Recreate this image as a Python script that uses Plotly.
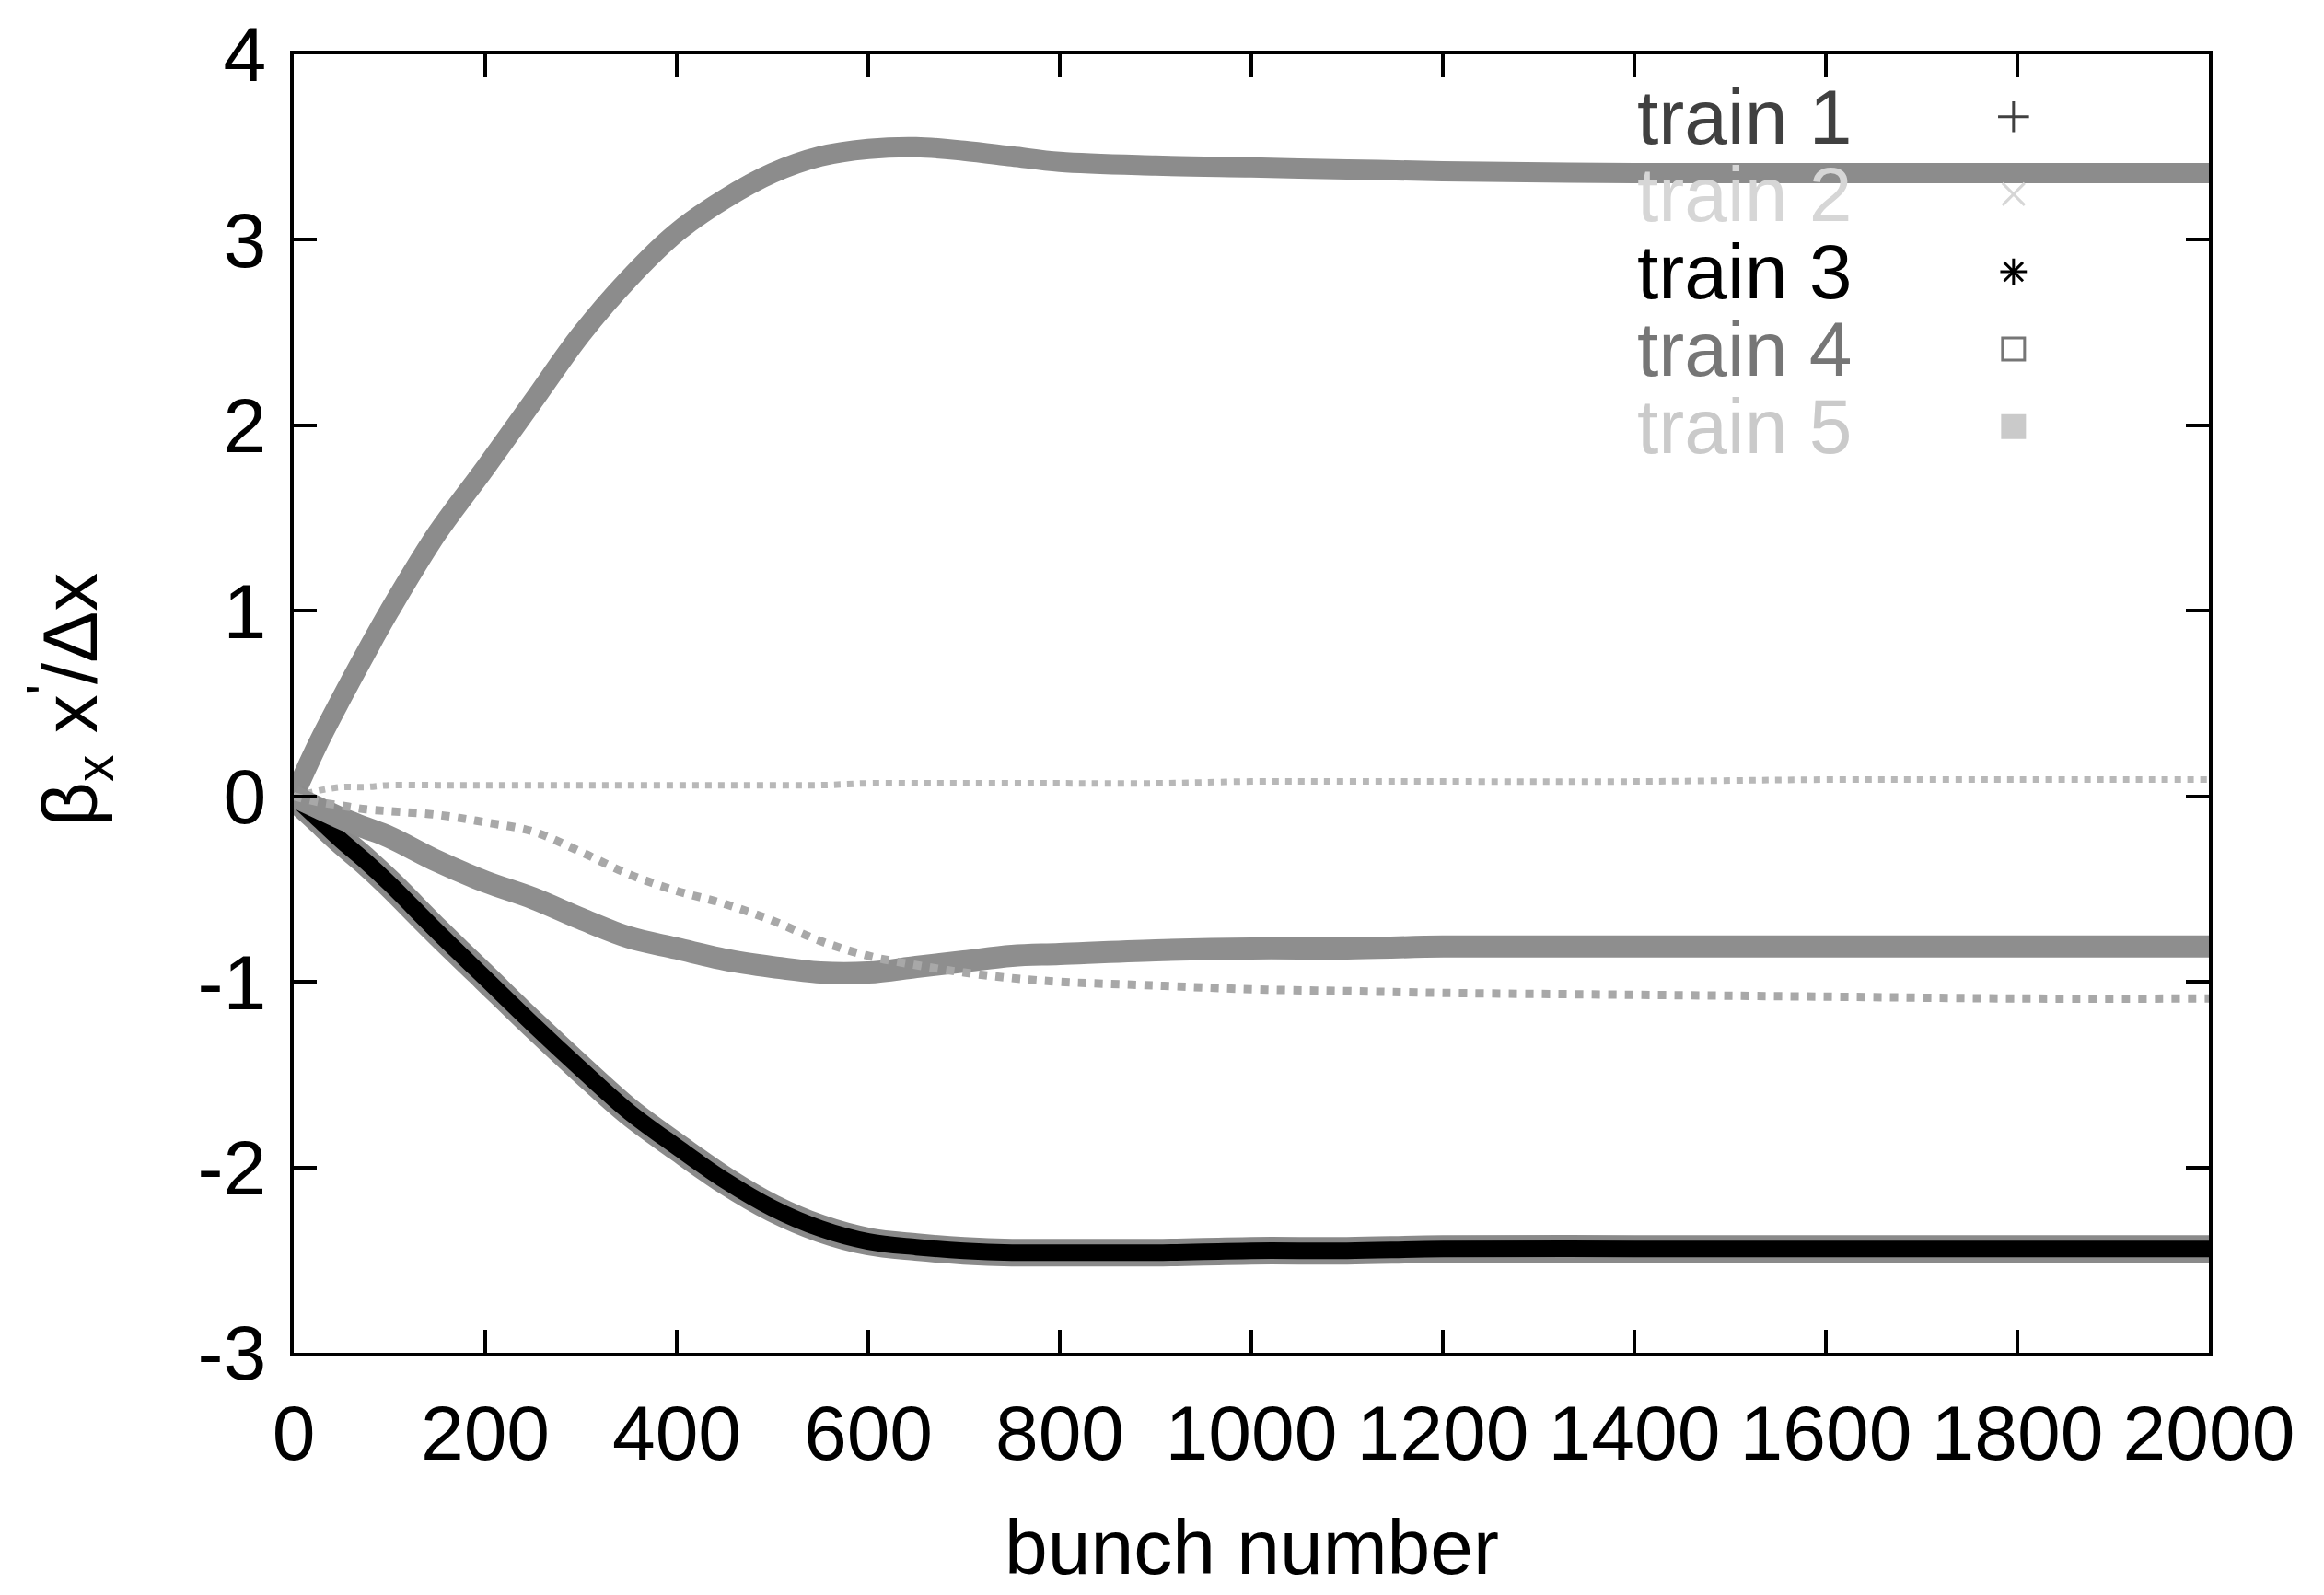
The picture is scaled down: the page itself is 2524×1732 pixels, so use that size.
import plotly.graph_objects as go

# Bunch index along the train
bunch = [0, 25, 50, 75, 100, 150, 200, 250, 300, 350, 400, 450, 500, 550, 600,
         650, 700, 750, 800, 900, 1000, 1100, 1200, 1400, 1600, 1800, 2000]

# Normalised offset beta_x * x' / dx for each bunch train
train_1 = [0.0, 0.28, 0.53, 0.77, 1.00, 1.42, 1.77, 2.13, 2.49, 2.79, 3.04, 3.22, 3.36, 3.45, 3.49,
           3.50, 3.48, 3.45, 3.42, 3.40, 3.39, 3.38, 3.37, 3.36, 3.36, 3.36, 3.36]
train_2 = [0.0, 0.03, 0.05, 0.05, 0.06, 0.06, 0.06, 0.06, 0.06, 0.06, 0.06, 0.06, 0.06, 0.06, 0.07,
           0.07, 0.07, 0.07, 0.07, 0.07, 0.08, 0.08, 0.08, 0.08, 0.09, 0.09, 0.09]
train_3 = [0.0, -0.12, -0.24, -0.35, -0.47, -0.73, -0.98, -1.23, -1.47, -1.70, -1.89, -2.07, -2.22, -2.33, -2.40,
           -2.43, -2.45, -2.46, -2.46, -2.46, -2.45, -2.45, -2.44, -2.44, -2.44, -2.44, -2.44]
train_4 = [0.0, -0.06, -0.12, -0.17, -0.22, -0.35, -0.46, -0.55, -0.66, -0.76, -0.82, -0.88, -0.92, -0.95, -0.95,
           -0.92, -0.89, -0.86, -0.85, -0.83, -0.82, -0.82, -0.81, -0.81, -0.81, -0.81, -0.81]
train_5 = [0.0, -0.03, -0.05, -0.07, -0.08, -0.10, -0.14, -0.19, -0.30, -0.42, -0.51, -0.58, -0.67, -0.78, -0.86,
           -0.91, -0.95, -0.98, -1.00, -1.02, -1.04, -1.05, -1.06, -1.07, -1.08, -1.09, -1.09]

x_ticks = [0, 200, 400, 600, 800, 1000, 1200, 1400, 1600, 1800, 2000]
y_ticks = [-3, -2, -1, 0, 1, 2, 3, 4]
y_tick_text = ["-3", "-2", "-1", "0", "1", "2", "3", "4"]

series_names = ["train 1", "train 2", "train 3", "train 4", "train 5"]
label_colors = ["#404040", "#d6d6d6", "#000000", "#767676", "#cacaca"]
key_symbols = ["cross-thin-open", "x-thin-open", "asterisk-open", "square-open", "square"]
key_rows = [0.952, 0.8923, 0.8326, 0.773, 0.7133]

FONT = "Liberation Sans, Arial, Helvetica, sans-serif"
FS = 84

fig = go.Figure()

# train 1: dense grey band
fig.add_trace(go.Scatter(x=bunch, y=train_1, mode="lines",
                         line=dict(color="#8c8c8c", width=22, shape="spline")))
# train 2: faint dotted trail near zero
fig.add_trace(go.Scatter(x=bunch, y=train_2, mode="lines",
                         line=dict(color="#b8b8b8", width=7, dash="dot", shape="spline")))
# train 3: black band with a grey fringe
fig.add_trace(go.Scatter(x=bunch, y=train_3, mode="lines",
                         line=dict(color="#8a8a8a", width=30, shape="spline")))
fig.add_trace(go.Scatter(x=bunch, y=train_3, mode="lines",
                         line=dict(color="#000000", width=18, shape="spline")))
# train 4: grey band
fig.add_trace(go.Scatter(x=bunch, y=train_4, mode="lines",
                         line=dict(color="#8e8e8e", width=24, shape="spline")))
# train 5: light scattered trail
fig.add_trace(go.Scatter(x=bunch, y=train_5, mode="lines",
                         line=dict(color="#a8a8a8", width=9, dash="dot", shape="spline")))

# Key symbols sit to the right of the labels, on an overlay axis in [0, 1]
key_x = [0.898] * len(series_names)
fig.add_trace(go.Scatter(
    x=key_x, y=key_rows, xaxis="x2", yaxis="y2", mode="markers",
    marker=dict(symbol=key_symbols, size=24, color=label_colors,
                line=dict(color=label_colors, width=3)),
    cliponaxis=False))

annotations = []
for name, color, yk in zip(series_names, label_colors, key_rows):
    annotations.append(dict(text=name, x=0.8144, y=yk, xref="paper", yref="paper",
                            xanchor="right", yanchor="middle", showarrow=False,
                            font=dict(family=FONT, size=FS, color=color)))

annotations.append(dict(text="bunch number", x=0.5, y=-0.1845, xref="paper", yref="paper",
                        xanchor="center", yanchor="bottom", showarrow=False,
                        font=dict(family=FONT, size=FS, color="black")))
annotations.append(dict(text="β<sub>x</sub> x<sup>'</sup>/Δx", x=-0.117, y=0.503,
                        xref="paper", yref="paper", textangle=-90,
                        xanchor="center", yanchor="middle", showarrow=False,
                        font=dict(family=FONT, size=FS, color="black")))

axis_common = dict(showgrid=False, zeroline=False, showline=True, linecolor="black",
                   linewidth=4, mirror="ticks", ticks="inside", ticklen=25, tickwidth=4,
                   tickcolor="black", tickfont=dict(family=FONT, size=FS, color="black"))

fig.update_layout(
    width=2524, height=1732,
    margin=dict(l=319, r=125, t=53, b=263),
    paper_bgcolor="white", plot_bgcolor="white",
    showlegend=False,
    xaxis=dict(range=[0, 2000], tickvals=x_ticks, ticklabelstandoff=11, **axis_common),
    yaxis=dict(range=[-3, 4], tickvals=y_ticks, ticktext=y_tick_text,
               ticklabelstandoff=9, **axis_common),
    xaxis2=dict(range=[0, 1], overlaying="x", visible=False),
    yaxis2=dict(range=[0, 1], overlaying="y", visible=False),
    annotations=annotations,
)

fig.write_html("out.html")
